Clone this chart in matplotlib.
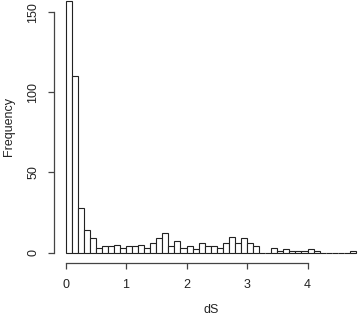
import numpy as np
import matplotlib
matplotlib.use("Agg")
import matplotlib.pyplot as plt

# histogram of dS, bin width 0.1 starting at 0
bin_left = np.round(np.arange(0, 4.8, 0.1), 1)
counts = [157, 110, 28, 14, 9, 3, 4, 4, 5, 3,
          4, 4, 5, 3, 6, 9, 12, 4, 7, 3,
          4, 2, 6, 4, 4, 3, 6, 10, 6, 9,
          6, 4, 0, 0, 3, 1, 2, 1, 1, 1,
          2, 1, 0, 0, 0, 0, 0, 1]
x_ticks = [0, 1, 2, 3, 4]
y_ticks = [0, 50, 100, 150]

plt.rcParams['font.family'] = ['Liberation Sans', 'DejaVu Sans']

fig = plt.figure(figsize=(3.58, 3.17), dpi=100)
ax = fig.add_axes([0.1506, 0.1716, 0.876, 0.857])

ax.bar(bin_left, counts, width=0.1, align='edge', color='white',
       edgecolor='#222222', linewidth=0.8)

ax.set_xlim(-0.192, 4.992)
ax.set_ylim(-6.28, 163.28)

for s in ['top', 'right']:
    ax.spines[s].set_visible(False)
ax.spines['bottom'].set_bounds(0, 4)
ax.spines['left'].set_bounds(0, 150)
for s in ['bottom', 'left']:
    ax.spines[s].set_color('#444444')
    ax.spines[s].set_linewidth(0.9)

ax.set_xticks(x_ticks)
ax.set_yticks(y_ticks)
ax.tick_params(axis='both', direction='out', length=4.5, width=0.9,
               color='#444444', labelsize=9, labelcolor='#222222')
ax.tick_params(axis='x', pad=7)
ax.tick_params(axis='y', pad=6, labelrotation=90)
for lab in ax.get_yticklabels():
    lab.set_va('center')

ax.set_xlabel('dS', fontsize=9, color='#222222', labelpad=10)
ax.set_ylabel('Frequency', fontsize=9, color='#222222', labelpad=9)

fig.savefig('out.png', dpi=100)
